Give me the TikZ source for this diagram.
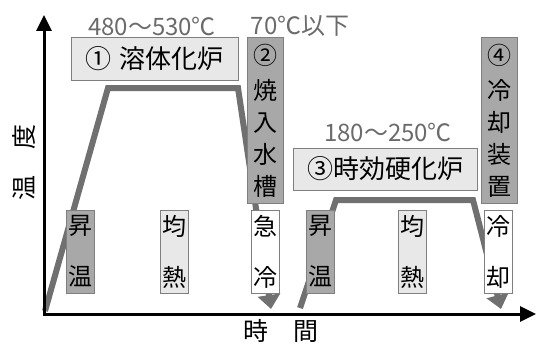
\documentclass[tikz,border=0pt]{standalone}
\usepackage{fontspec}
\setmainfont{Noto Sans CJK JP}
\usetikzlibrary{arrows.meta}
\definecolor{linegray}{HTML}{707070}
\definecolor{midgray}{HTML}{A8A8A8}
\definecolor{lightgray2}{HTML}{E8E8E8}
\definecolor{edgegray}{HTML}{7F7F7F}
\definecolor{textgray}{HTML}{6B6B6B}
\begin{document}
\begin{tikzpicture}[x=1pt,y=-1pt,
 axis/.style={line width=3pt, {Triangle[width=15pt,length=16pt]}-{Triangle[width=15pt,length=16pt]}},
 profile/.style={draw=linegray, line width=6pt},
 profarrow/.style={profile, -{Triangle[width=22pt,length=14pt]}},
 hbox/.style={draw=edgegray, line width=1pt, fill=lightgray2, inner sep=0pt, minimum height=42pt, font=\fontsize{26}{30}\selectfont},
 vbox/.style={draw=edgegray, line width=1pt, fill=midgray, inner sep=0pt, minimum width=36pt, minimum height=165pt, align=center, font=\fontsize{24}{32}\selectfont},
 sbox/.style={draw=edgegray, line width=1pt, inner sep=0pt, minimum width=28pt, minimum height=83pt, align=center, font=\fontsize{24}{51}\selectfont},
 temp/.style={text=textgray, inner sep=0pt, font=\fontsize{24}{28}\selectfont},
 axlabel/.style={inner sep=0pt, font=\fontsize{25}{28}\selectfont}
]
\useasboundingbox (0,0) rectangle (537,345);
% profile coordinates
\coordinate (p1a) at (45,311);
\coordinate (p1b) at (108,88);
\coordinate (p1c) at (238,88);
\coordinate (p1d) at (271,309);
\coordinate (p2a) at (300,308);
\coordinate (p2b) at (336,200);
\coordinate (p2c) at (473,200);
\coordinate (p2d) at (501,309);
\draw[profarrow] (p1a) -- (p1b) -- (p1c) -- (p1d);
\draw[profarrow] (p2a) -- (p2b) -- (p2c) -- (p2d);
% axes
\coordinate (o) at (44,314);
\coordinate (ytip) at (44,15);
\coordinate (xtip) at (536,314);
\draw[axis] (ytip) -- (o) -- (xtip);
% boxes
\node[hbox, minimum width=167pt] (b1) at (154.5,59) {①\hspace{8pt}溶体化炉};
\node[vbox] (b2) at (265,120.5) {②\\[3pt]焼\\入\\水\\槽};
\node[sbox, fill=white] (b2s) at (265.5,251.5) {急\\冷};
\node[hbox, minimum width=184pt] (b3) at (385.5,169) {③時効硬化炉};
\node[vbox] (b4) at (499,120.5) {④\\[3pt]冷\\却\\装\\置};
\node[sbox, fill=white] (b4s) at (498,251.5) {冷\\却};
\node[sbox, fill=midgray] (s1) at (80,251.5) {昇\\温};
\node[sbox, fill=lightgray2] (s2) at (174,251.5) {均\\熱};
\node[sbox, fill=midgray] (s3) at (320,251.5) {昇\\温};
\node[sbox, fill=lightgray2] (s4) at (412.5,251.5) {均\\熱};
% labels
\node[temp] (t1) at (152,26) {480～530℃};
\node[temp] (t2) at (300,26) {70℃以下};
\node[temp] (t3) at (388,132) {180～250℃};
\node[axlabel] (xl) at (281,331) {時\hspace{25pt}間};
\node[axlabel, rotate=90] (yl) at (24,162) {温\hspace{26pt}度};
\end{tikzpicture}
\end{document}
